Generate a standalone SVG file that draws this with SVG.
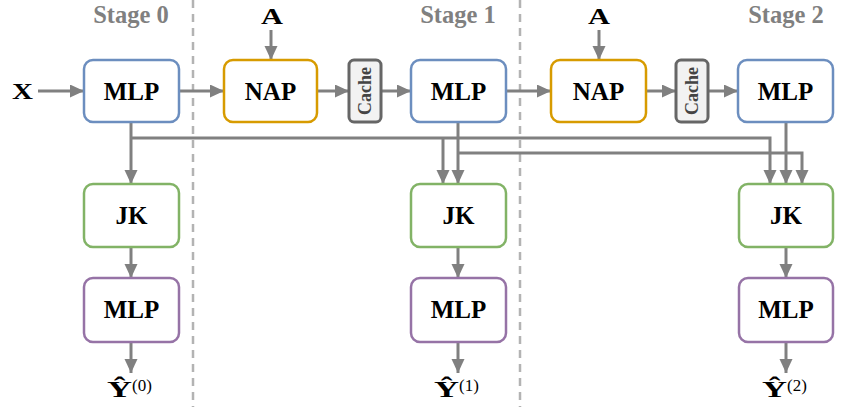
<svg xmlns="http://www.w3.org/2000/svg" width="841" height="407" viewBox="0 0 841 407">
<style>
.box{fill:#fff;stroke-width:2.5}
.mlp{stroke:#6c8ebf}
.nap{stroke:#d79b00}
.jk{stroke:#82b366}
.out{stroke:#9673a6}
.cache{fill:#f2f2f2;stroke:#666;stroke-width:3}
.lbl{font-family:"Liberation Serif",serif;font-weight:bold;font-size:25px;fill:#000;text-anchor:middle}
.math{font-family:"Liberation Serif",serif;font-weight:bold;font-size:24px;fill:#000}
.sup{font-family:"Liberation Serif",serif;font-size:17px;fill:#000}
.stage{font-family:"Liberation Serif",serif;font-weight:bold;font-size:24.5px;fill:#808080;text-anchor:middle}
.ctext{font-family:"Liberation Serif",serif;font-weight:bold;font-size:18px;fill:#444;text-anchor:middle}
.ar{stroke:#808080;stroke-width:3;fill:none;marker-end:url(#ah)}
.dash{stroke:#b3b3b3;stroke-width:2.5;stroke-dasharray:8 6}
</style>
<defs>
<marker id="ah" markerUnits="userSpaceOnUse" markerWidth="16" markerHeight="14" refX="14" refY="6.5" orient="auto">
<path d="M0,0 L14,6.5 L0,13 Z" fill="#808080"/>
</marker>
</defs>
<rect width="841" height="407" fill="#fff"/>
<g id="separators">
<line class="dash" x1="193" y1="0" x2="193" y2="407"/>
<line class="dash" x1="520" y1="0" x2="520" y2="407"/>
</g>
<g id="labels">
<text class="stage" x="131" y="23">Stage 0</text>
<text class="stage" x="458" y="23">Stage 1</text>
<text class="stage" x="786" y="23">Stage 2</text>
<text class="math" x="12" y="98.5" textLength="21" lengthAdjust="spacingAndGlyphs">X</text>
<text class="math" x="261" y="23.5" textLength="22" lengthAdjust="spacingAndGlyphs">A</text>
<text class="math" x="588" y="23.5" textLength="22" lengthAdjust="spacingAndGlyphs">A</text>
</g>
<g id="connectors">
<line class="ar" x1="38" y1="91" x2="84" y2="91"/>
<line class="ar" x1="179" y1="91" x2="224" y2="91"/>
<line class="ar" x1="317" y1="91" x2="349" y2="91"/>
<line class="ar" x1="381" y1="91" x2="411" y2="91"/>
<line class="ar" x1="506" y1="91" x2="551" y2="91"/>
<line class="ar" x1="646" y1="91" x2="676" y2="91"/>
<line class="ar" x1="708" y1="91" x2="738" y2="91"/>
<line class="ar" x1="271" y1="30" x2="271" y2="60"/>
<line class="ar" x1="599" y1="30" x2="599" y2="60"/>
<line class="ar" x1="131" y1="122" x2="131" y2="184"/>
<polyline class="ar" points="131,138 770,138 770,184"/>
<line class="ar" x1="443" y1="138" x2="443" y2="184"/>
<line class="ar" x1="458" y1="122" x2="458" y2="184"/>
<polyline class="ar" points="458,153 802,153 802,184"/>
<line class="ar" x1="786" y1="122" x2="786" y2="184"/>
<line class="ar" x1="131" y1="247" x2="131" y2="278"/>
<line class="ar" x1="458" y1="247" x2="458" y2="278"/>
<line class="ar" x1="786" y1="247" x2="786" y2="278"/>
<line class="ar" x1="131" y1="342" x2="131" y2="373"/>
<line class="ar" x1="458" y1="342" x2="458" y2="373"/>
<line class="ar" x1="786" y1="342" x2="786" y2="373"/>
</g>
<g id="mlp0"><rect class="box mlp" x="84" y="60" width="95" height="62" rx="9"/><text class="lbl" x="131.5" y="100">MLP</text></g>
<g id="nap1"><rect class="box nap" x="224" y="60" width="93" height="62" rx="9"/><text class="lbl" x="270.5" y="100">NAP</text></g>
<g id="cache1"><rect class="cache" x="349" y="60" width="32" height="62" rx="5"/><text class="ctext" transform="translate(371,91) rotate(-90)">Cache</text></g>
<g id="mlp1"><rect class="box mlp" x="411" y="60" width="95" height="62" rx="9"/><text class="lbl" x="458.5" y="100">MLP</text></g>
<g id="nap2"><rect class="box nap" x="551" y="60" width="95" height="62" rx="9"/><text class="lbl" x="598.5" y="100">NAP</text></g>
<g id="cache2"><rect class="cache" x="676" y="60" width="32" height="62" rx="5"/><text class="ctext" transform="translate(698,91) rotate(-90)">Cache</text></g>
<g id="mlp2"><rect class="box mlp" x="738" y="60" width="95" height="62" rx="9"/><text class="lbl" x="785.5" y="100">MLP</text></g>
<g id="jk0"><rect class="box jk" x="84" y="184" width="95" height="63" rx="9"/><text class="lbl" x="131.5" y="224">JK</text></g>
<g id="jk1"><rect class="box jk" x="411" y="184" width="95" height="63" rx="9"/><text class="lbl" x="458.5" y="224">JK</text></g>
<g id="jk2"><rect class="box jk" x="739" y="184" width="94" height="63" rx="9"/><text class="lbl" x="786" y="224">JK</text></g>
<g id="out0"><rect class="box out" x="84" y="278" width="95" height="64" rx="9"/><text class="lbl" x="131.5" y="318">MLP</text></g>
<g id="out1"><rect class="box out" x="411" y="278" width="95" height="64" rx="9"/><text class="lbl" x="458.5" y="318">MLP</text></g>
<g id="out2"><rect class="box out" x="739" y="278" width="94" height="64" rx="9"/><text class="lbl" x="786" y="318">MLP</text></g>
<g id="yhat">
<text class="math" x="107" y="397" textLength="25" lengthAdjust="spacingAndGlyphs">Ŷ</text><text class="sup" x="132" y="391">(0)</text>
<text class="math" x="434" y="397" textLength="25" lengthAdjust="spacingAndGlyphs">Ŷ</text><text class="sup" x="459" y="391">(1)</text>
<text class="math" x="762" y="397" textLength="25" lengthAdjust="spacingAndGlyphs">Ŷ</text><text class="sup" x="787" y="391">(2)</text>
</g>
</svg>
